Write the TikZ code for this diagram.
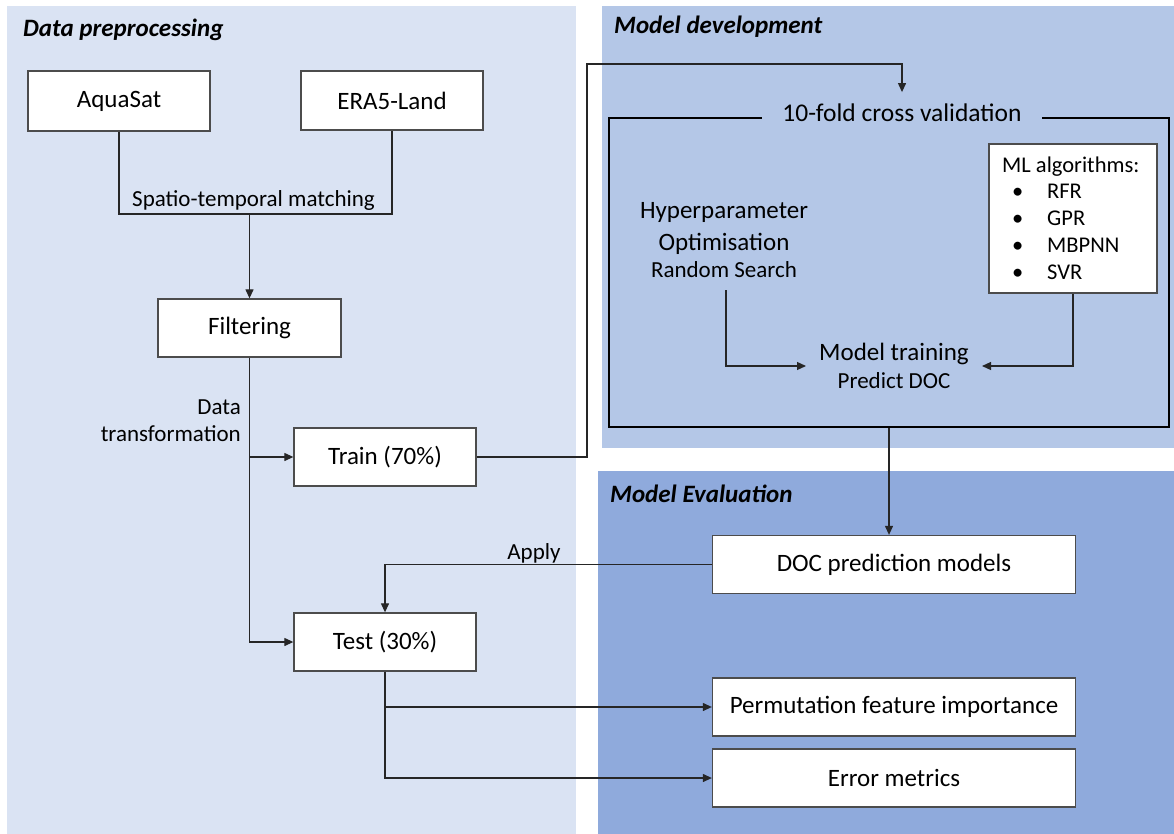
\documentclass[tikz,border=0pt]{standalone}
\usepackage{fontspec}
\setmainfont{Carlito}
\usetikzlibrary{arrows.meta}
\definecolor{dpcol}{HTML}{DAE3F3}
\definecolor{mdcol}{HTML}{B4C7E7}
\definecolor{mecol}{HTML}{8FAADC}
\newcommand\mybig{\fontsize{25}{30}\selectfont}
\newcommand\mysmall{\fontsize{23}{27}\selectfont}
\newcommand\mlfont{\fontsize{22.5}{26.75}\selectfont}
\begin{document}
\begin{tikzpicture}[x=1pt,y=-1pt,
  box/.style={draw=black!70, line width=1.3pt, fill=white, minimum width=182pt,
    minimum height=58pt, inner sep=0pt, font=\mybig},
  widebox/.style={box, minimum width=363pt},
  conn/.style={line width=1.2pt, draw=black!85},
  arr/.style={conn, -{Triangle[length=9pt,width=8pt]}},
  lbl/.style={font=\mysmall, inner sep=0pt},
  paneltitle/.style={font=\mybig\bfseries\itshape, anchor=base west, inner sep=0pt}]
\useasboundingbox (0,0) rectangle (1174,834);
% panels
\fill[dpcol] (7,6) rectangle (576,834);
\fill[mdcol] (602,6) rectangle (1174,448);
\fill[mecol] (598,471) rectangle (1174,834);
\node[paneltitle] (tdp) at (23,37) {Data preprocessing};
\node[paneltitle] (tmd) at (614,34) {Model development};
\node[paneltitle] (tme) at (610,502) {Model Evaluation};
% preprocessing
\node[box, minimum height=60pt] (aqua) at (119,101) {AquaSat};
\node[box, minimum height=59pt] (era) at (392,100.5) {ERA5-Land};
\node[box, minimum width=183pt] (filt) at (249.5,328) {Filtering};
\node[box] (train) at (385,457) {Train (70\%)};
\node[box] (test) at (385,642) {Test (30\%)};
\coordinate (match) at (249.5,214);
\node[lbl, anchor=base] (stm) at (253.5,207) {Spatio-temporal matching};
\draw[conn] (aqua.south) |- (match) -| (era.south);
\draw[arr] (match) -- (filt.north);
\node[lbl, anchor=east, align=right] (dt) at (241,421) {Data\\transformation};
\draw[arr] (filt.south) |- (train.west);
\draw[arr] (filt.south) |- (test.west);
% model development
\node[draw=black, line width=2.6pt, minimum width=560pt, minimum height=309pt, inner sep=0pt] (cv) at (889,272.5) {};
\node[font=\fontsize{25.5}{30}\selectfont, anchor=base, fill=mdcol, inner xsep=20pt, inner ysep=12pt] (cvt) at (902,122) {10-fold cross validation};
\coordinate (bend) at (587,64);
\draw[arr] (train.east) -| (bend) -| (cvt.north);
\node[draw=black!70, line width=1.3pt, fill=white, minimum width=168pt, minimum height=149pt, inner sep=0pt] (ml) at (1073,218.5) {};
\node[anchor=base west, font=\mlfont, inner sep=0pt, align=left] (mltxt) at (1002,279) {ML algorithms:\\
\makebox[45pt][l]{\hspace{10pt}\textbullet}RFR\\
\makebox[45pt][l]{\hspace{10pt}\textbullet}GPR\\
\makebox[45pt][l]{\hspace{10pt}\textbullet}MBPNN\\
\makebox[45pt][l]{\hspace{10pt}\textbullet}SVR};
\node[inner sep=0pt, align=center, font=\fontsize{23}{27}\selectfont] (hyp) at (724,240) {{\mybig Hyperparameter}\\[5pt]{\mybig Optimisation}\\Random Search};
\coordinate (hypout) at (726,290);
\node[inner xsep=13pt, inner ysep=0pt, align=center, font=\fontsize{23}{28}\selectfont] (mt) at (894,366) {{\mybig Model training}\\Predict DOC};
\draw[arr] (hypout) |- (mt.west);
\draw[arr] (ml.south) |- (mt.east);
% evaluation
\node[widebox] (doc) at (894,564.5) {DOC prediction models};
\node[widebox] (perm) at (894,707) {Permutation feature importance};
\node[widebox] (err) at (894,778) {Error metrics};
\draw[arr] (cv.south) -- (cv.south |- doc.north);
\draw[arr] (doc.west) -| (test.north);
\node[lbl, anchor=base] (apply) at (534,559.5) {Apply};
\draw[arr] (test.south) |- (perm.west);
\draw[arr] (test.south) |- (err.west);
\end{tikzpicture}
\end{document}
